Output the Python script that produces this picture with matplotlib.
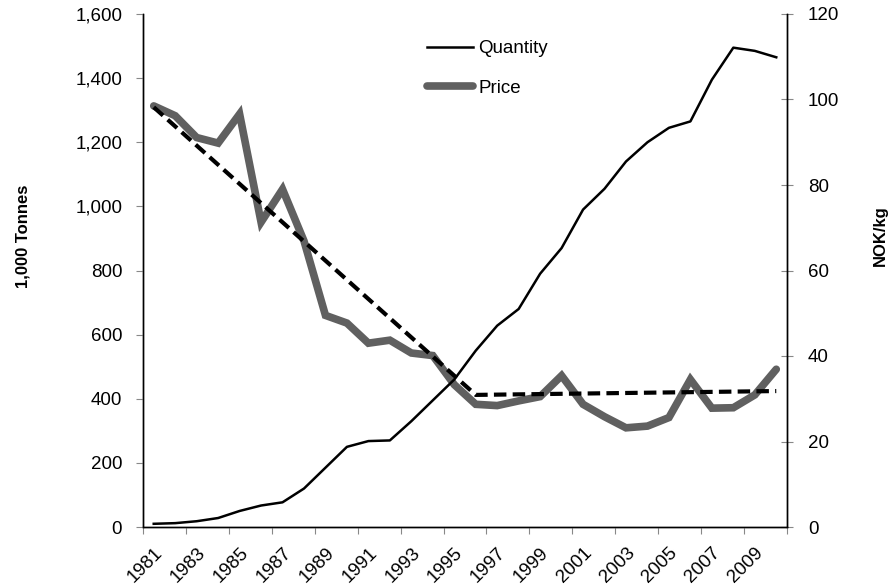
import matplotlib
matplotlib.use("Agg")
import matplotlib.pyplot as plt
import numpy as np

plt.rcParams['font.family'] = ['Liberation Sans', 'DejaVu Sans']

years = list(range(1981, 2011))
quantity = [10, 12, 18, 28, 50, 67, 77, 120, 185, 250,
            268, 270, 330, 395, 460, 550, 628, 680, 790, 870,
            990, 1055, 1140, 1200, 1245, 1265, 1395, 1495, 1485, 1465]
price = [98.5, 96.2, 91.1, 89.8, 96.6, 71.3, 79.0, 66.9, 49.5, 47.7,
         43.0, 43.7, 40.7, 40.1, 33.3, 28.7, 28.4, 29.5, 30.5, 35.4,
         28.7, 25.8, 23.2, 23.6, 25.6, 34.5, 27.8, 27.9, 30.9, 36.9]
trend_years = [1981, 1996, 2010]
trend_price = [98.2, 30.9, 31.8]

x = np.arange(len(years))
tx = [years.index(y) for y in trend_years]

fig = plt.figure(figsize=(8.92, 5.86), dpi=100)
ax = fig.add_axes([143/892, 1-527/586, (787-143)/892, (527-14)/586])
ax2 = ax.twinx()
ax.set_zorder(ax2.get_zorder() + 1)
ax.patch.set_visible(False)

l2, = ax2.plot(x, price, color='#606060', lw=5.5, solid_capstyle='round',
               solid_joinstyle='miter', label='Price')
ax2.plot(tx, trend_price, color='black', lw=3, dashes=(3, 1.5))
l1, = ax.plot(x, quantity, color='black', lw=1.8, label='Quantity')

ax.set_xlim(-0.5, len(years) - 0.5)
ax.set_ylim(0, 1600)
ax2.set_ylim(0, 120)
ax.set_yticks(range(0, 1601, 200))
ax.set_yticklabels([f'{v:,}' for v in range(0, 1601, 200)])
ax2.set_yticks(range(0, 121, 20))

ax.set_xticks(np.arange(-0.5, len(years), 2))
ax.set_xticklabels([])
ax.set_xticks(x[::2], minor=True)
ax.set_xticklabels([str(y) for y in years[::2]], minor=True, rotation=45,
                   ha='right', va='top', rotation_mode='anchor')
ax.tick_params(axis='x', which='minor', length=0, pad=12.5, labelsize=13.5)
ax.tick_params(axis='x', which='major', length=5, color='#888888', direction='out')
ax.tick_params(axis='y', length=5, color='#888888', pad=10, labelsize=13.5)
ax2.tick_params(axis='y', length=8, color='#888888', direction='inout', pad=11,
                labelsize=13.5)

for a in (ax, ax2):
    a.spines['top'].set_visible(False)
    for s in ('left', 'right', 'bottom'):
        a.spines[s].set_linewidth(1.0)

fig.text(23/892, 1-236/586, '1,000 Tonnes', rotation=90, ha='center', va='center',
         fontsize=12, fontweight='bold')
fig.text(880/892, 1-236/586, 'NOK/kg', rotation=90, ha='center', va='center',
         fontsize=12, fontweight='bold')

fig.legend([l1, l2], ['Quantity', 'Price'], loc='upper left',
           bbox_to_anchor=(427/892, 1-40/586), frameon=False, fontsize=13.5,
           handlelength=2.45, handletextpad=0.3, labelspacing=1.2,
           borderpad=0, borderaxespad=0)

fig.savefig('out.png', dpi=100)
